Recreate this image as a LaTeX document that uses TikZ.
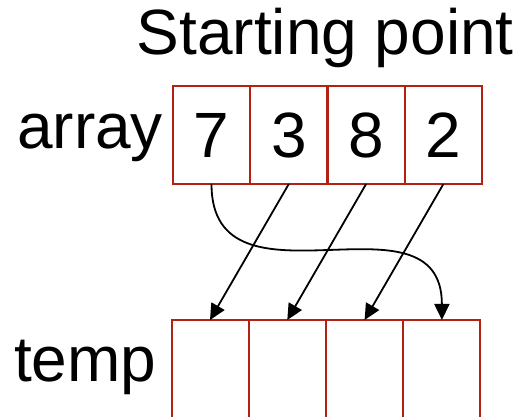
\documentclass[tikz,border=0pt]{standalone}
\usepackage{fontspec}
\setmainfont{Liberation Sans}
\usetikzlibrary{arrows.meta}
\definecolor{cellred}{RGB}{178,34,20}

\begin{document}
\begin{tikzpicture}[x=1pt, y=1pt,
        cell/.style={draw=cellred, line width=2pt, minimum width=77pt, minimum height=98pt, inner sep=0pt, outer sep=0pt, font=\fontsize{64}{76}\selectfont},
        txt/.style={inner sep=0pt, font=\fontsize{64}{76}\selectfont},
        arrow/.style={-{Triangle[length=16pt, width=15pt]}, line width=1.8pt}
    ]
        \useasboundingbox (0,0) rectangle (525,417);

        % Labels
        \node[txt, anchor=base east] (title) at (514, 362) {Starting point};
        \node[txt, anchor=base west] (arr) at (17, 268) {array};
        \node[txt, anchor=base west] (tmp) at (14, 35) {temp};

        % Array cells
        \node[cell] (a1) at (211.5, 282) {7};
        \node[cell] (a2) at (288.8, 282) {3};
        \node[cell] (a3) at (366.1, 282) {8};
        \node[cell] (a4) at (443.4, 282) {2};

        % Temp cells
        \node[cell] (t1) at (210, 48) {};
        \node[cell] (t2) at (287.3, 48) {};
        \node[cell] (t3) at (364.6, 48) {};
        \node[cell] (t4) at (441.9, 48) {};

        % Moves
        \draw[arrow] (a2.south) -- (t1.north);
        \draw[arrow] (a3.south) -- (t2.north);
        \draw[arrow] (a4.south) -- (t3.north);
        \draw[arrow] (a1.south) .. controls +(0,-136) and +(0,136) .. (t4.north);

    \end{tikzpicture}
\end{document}
